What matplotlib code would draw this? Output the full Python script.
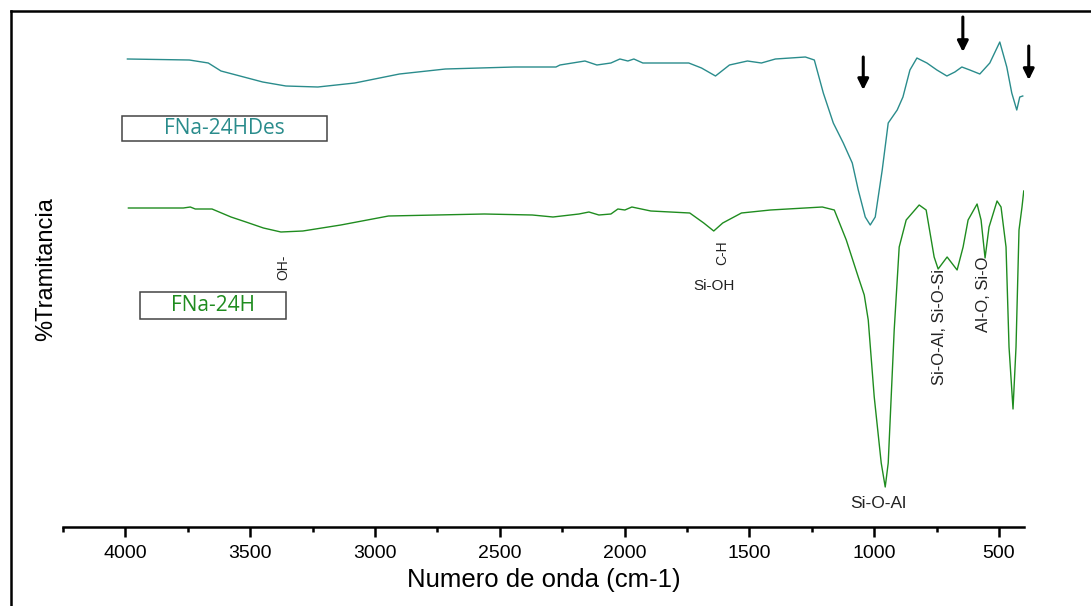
import matplotlib
matplotlib.use("Agg")
import matplotlib.pyplot as plt
from matplotlib.lines import Line2D
from matplotlib.patches import Rectangle

# FNa-24HDes (upper curve), wavenumber (cm-1) and transmittance (a.u.)
wn_des = [3992, 3744, 3668, 3617, 3541, 3450, 3357, 3229, 3081, 2902, 2718, 2442, 2275,
          2259, 2159, 2111, 2055, 2019, 1987, 1963, 1927, 1743, 1692, 1636, 1580,
          1508, 1452, 1396, 1276, 1240, 1204, 1164, 1124, 1088, 1064, 1036, 1016,
          996, 968, 944, 908, 885, 857, 829, 789, 749, 709, 677, 649, 617, 577,
          537, 497, 469, 449, 429, 417, 405]
t_des = [471, 470, 467, 459, 454, 448, 444, 443, 447, 456, 461, 463, 463,
         465, 469, 465, 467, 471, 469, 471, 467, 467, 462, 454, 465,
         469, 467, 471, 473, 470, 437, 407, 387, 367, 340, 313, 305,
         313, 360, 407, 420, 433, 460, 472, 467, 460, 454, 458, 463, 460, 456,
         467, 488, 463, 437, 420, 433, 434]

# FNa-24H (lower curve)
wn_24h = [3988, 3768, 3740, 3720, 3653, 3577, 3517, 3447, 3377, 3289, 3137, 2946, 2562,
          2370, 2287, 2183, 2143, 2103, 2055, 2027, 1999, 1971, 1895, 1739, 1683,
          1643, 1607, 1532, 1416, 1208, 1160, 1112, 1064, 1040, 1024, 1000, 972,
          956, 944, 920, 900, 872, 820, 792, 760, 744, 708, 668, 644, 624, 588,
          572, 556, 540, 508, 492, 472, 460, 444, 432, 420, 408, 401]
t_24h = [322, 322, 323, 321, 321, 313, 308, 302, 298, 299, 305, 314, 316,
         315, 313, 316, 318, 315, 316, 321, 320, 323, 319, 317, 307,
         299, 307, 317, 320, 323, 320, 290, 253, 235, 210, 133, 67,
         43, 67, 200, 283, 310, 325, 320, 273, 261, 273, 260, 283, 310, 326,
         310, 272, 303, 329, 323, 283, 183, 121, 183, 300, 323, 339]

x_ticks = [4000, 3500, 3000, 2500, 2000, 1500, 1000, 500]

# band labels: text, wavenumber, level, rotation, size
bands = [
    ("OH-", 3369, 263, 90, 10),
    ("C-H", 1608, 277, 90, 10),
    ("Si-OH", 1643, 244, 0, 11),
    ("Si-O-Al", 985, 27, 0, 12.5),
    ("Si-O-Al, Si-O-Si", 737, 203, 90, 12),
    ("Al-O, Si-O", 561, 236, 90, 12),
]
# arrows on the upper curve: wavenumber, tail, tip
arrows = [(1044, 473, 440), (645, 513, 478), (381, 484, 450)]

teal = "#2a8c8c"
green = "#1f8c1f"
sans = ["Liberation Sans", "DejaVu Sans"]
narrow = ["Liberation Sans Narrow", "Liberation Sans", "DejaVu Sans"]

fig = plt.figure(figsize=(10.91, 6.06), dpi=100)
ax = fig.add_axes([63 / 1091, 79 / 606, 961 / 1091, 516 / 606])

ax.plot(wn_des, t_des, color=teal, lw=1.0)
ax.plot(wn_24h, t_24h, color=green, lw=1.0)

ax.set_xlim(4240, 400)
ax.set_ylim(3, 519)
for s in ["top", "right", "left"]:
    ax.spines[s].set_visible(False)
ax.spines["bottom"].set_linewidth(1.8)
ax.set_yticks([])
ax.set_xticks(x_ticks)
ax.set_xticks([4250, 3750, 3250, 2750, 2250, 1750, 1250, 750], minor=True)
ax.tick_params(axis="x", which="major", length=7, width=1.8, direction="out", pad=6)
ax.tick_params(axis="x", which="minor", length=3.5, width=1.8, direction="out")
for lab in ax.get_xticklabels():
    lab.set_family(sans)
    lab.set_fontsize(14)
ax.set_xlabel("Numero de onda (cm-1)", family=sans, fontsize=18.5, labelpad=4)
ax.set_ylabel("%Tramitancia", family=narrow, fontsize=17)
ax.yaxis.set_label_coords(-0.006, 0.5)

for txt, x, y, rot, fs in bands:
    ax.text(x, y, txt, rotation=rot, ha="center", va="center", fontsize=fs,
            family=narrow if rot else sans, color="#222222")

for x, y0, y1 in arrows:
    ax.annotate("", xy=(x, y1), xytext=(x, y0), annotation_clip=False,
                arrowprops=dict(arrowstyle="-|>", color="black", lw=2.2,
                                mutation_scale=16, shrinkA=0, shrinkB=0))

# sample name boxes (figure pixels)
def name_box(x0, y0, x1, y1, label, color):
    fig.add_artist(Rectangle((x0 / 1091, 1 - y1 / 606), (x1 - x0) / 1091, (y1 - y0) / 606,
                             transform=fig.transFigure, fill=False, ec="#444444", lw=1.1))
    fig.text((x0 + x1) / 2 / 1091, 1 - (y0 + y1) / 2 / 606, label, color=color,
             ha="center", va="center", fontsize=15, family=["Open Sans", "DejaVu Sans"])

name_box(122, 116, 327, 141, "FNa-24HDes", teal)
name_box(140, 292, 286, 319, "FNa-24H", green)

# outer frame
fig.add_artist(Line2D([11 / 1091, 11 / 1091], [0, 1 - 11 / 606], transform=fig.transFigure,
                      color="black", lw=1.8))
fig.add_artist(Line2D([11 / 1091, 1], [1 - 11 / 606, 1 - 11 / 606], transform=fig.transFigure,
                      color="black", lw=1.8))

fig.savefig("out.png", dpi=100)
